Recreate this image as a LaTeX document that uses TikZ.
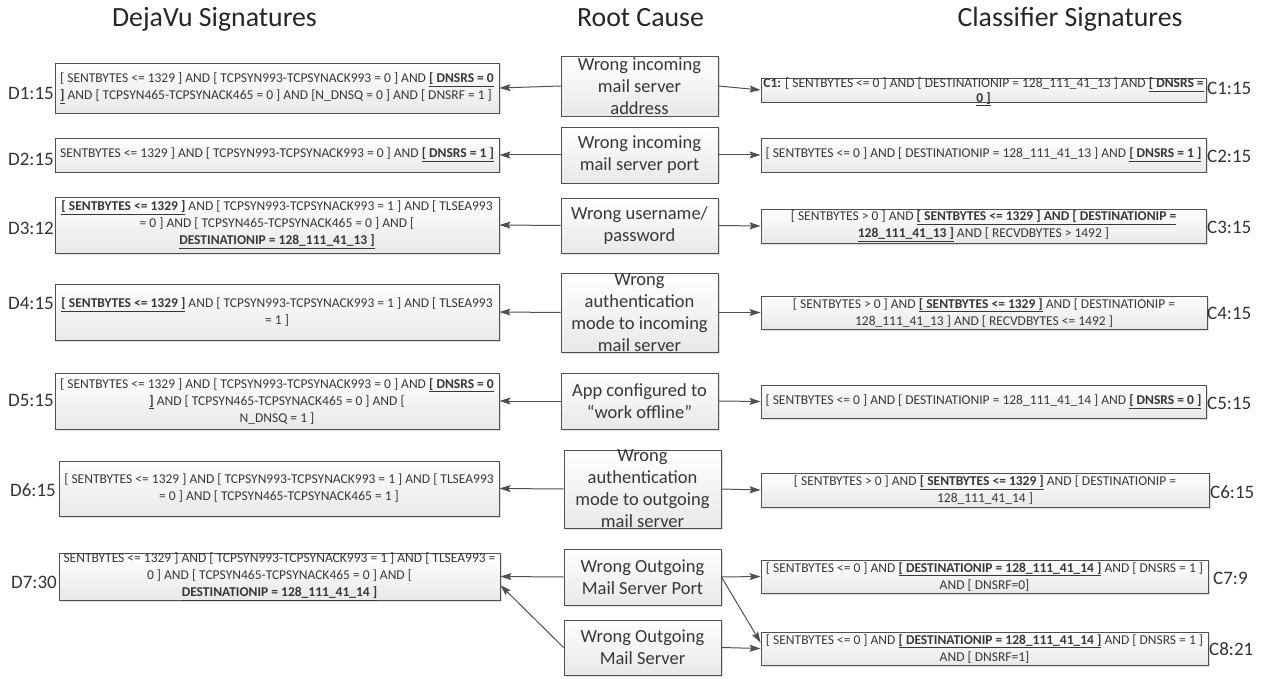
\documentclass[tikz,border=0pt]{standalone}
\usepackage{fontspec}
\setmainfont{Carlito}
\usetikzlibrary{arrows.meta,shadows,calc}
\definecolor{edge}{RGB}{80,80,80}
\definecolor{txt}{RGB}{55,55,55}
\newcommand{\ub}[1]{\underline{\textbf{#1}}}
\tikzset{
  box/.style={draw=edge, line width=0.9pt, top color=white, bottom color=black!9,
    drop shadow={opacity=0.25, shadow xshift=1.5pt, shadow yshift=-1.5pt}, inner sep=0pt},
  sig/.style={font=\fontsize{13.5}{17}\selectfont, text=txt, align=center, inner sep=0pt},
  mid/.style={font=\fontsize{18.5}{22}\selectfont, text=txt, align=center, inner sep=0pt},
  lab/.style={font=\fontsize{19}{22}\selectfont, text=black!80, inner sep=0pt},
  ttl/.style={font=\fontsize{27.8}{30}\selectfont, text=black!85, inner sep=0pt, anchor=base},
  arr/.style={draw=edge, line width=1pt, -{Stealth[length=11pt,width=7pt,inset=2pt]}}
}
\begin{document}
\begin{tikzpicture}[x=1pt,y=-1pt]
\fill[white] (0,0) rectangle (1287,679);
\useasboundingbox (0,0) rectangle (1287,679);

% titles
\node[ttl] (t1) at (214.5,27) {DejaVu Signatures};
\node[ttl] (t2) at (640.5,27) {Root Cause};
\node[ttl] (t3) at (1070,27) {Classifier Signatures};

% ---------- left boxes ----------
\node[box, minimum width=444pt, minimum height=50pt] (d1) at (277,88) {};
\node[box, minimum width=444pt, minimum height=34pt] (d2) at (277,155) {};
\node[box, minimum width=444pt, minimum height=56pt] (d3) at (277,225) {};
\node[box, minimum width=444pt, minimum height=56pt] (d4) at (277,312) {};
\node[box, minimum width=444pt, minimum height=56pt] (d5) at (277,401) {};
\node[box, minimum width=440pt, minimum height=55pt] (d6) at (279,488.5) {};
\node[box, minimum width=441pt, minimum height=47pt] (d7) at (279.5,576.5) {};

\node[sig, align=left] (d1t) at (d1) {[ SENTBYTES <= 1329 ] AND [ TCPSYN993-TCPSYNACK993 = 0 ] AND \ub{[ DNSRS = 0}\\\ub{]} AND [ TCPSYN465-TCPSYNACK465 = 0 ] AND [N\_DNSQ = 0 ] AND [ DNSRF = 1 ]};
\node[sig] (d2t) at (d2) {SENTBYTES <= 1329 ] AND [ TCPSYN993-TCPSYNACK993 = 0 ] AND \ub{[ DNSRS = 1 ]}};
\node[sig] (d3t) at (d3) {\ub{[ SENTBYTES <= 1329 ]} AND [ TCPSYN993-TCPSYNACK993 = 1 ] AND [ TLSEA993\\= 0 ] AND [ TCPSYN465-TCPSYNACK465 = 0 ] AND [\\\ub{DESTINATIONIP = 128\_111\_41\_13 ]}};
\node[sig] (d4t) at (d4) {\ub{[ SENTBYTES <= 1329 ]} AND [ TCPSYN993-TCPSYNACK993 = 1 ] AND [ TLSEA993\\= 1 ]};
\node[sig] (d5t) at (d5) {[ SENTBYTES <= 1329 ] AND [ TCPSYN993-TCPSYNACK993 = 0 ] AND \ub{[ DNSRS = 0}\\\ub{]} AND [ TCPSYN465-TCPSYNACK465 = 0 ] AND [\\N\_DNSQ = 1 ]};
\node[sig] (d6t) at (d6) {[ SENTBYTES <= 1329 ] AND [ TCPSYN993-TCPSYNACK993 = 1 ] AND [ TLSEA993\\= 0 ] AND [ TCPSYN465-TCPSYNACK465 = 1 ]};
\node[sig] (d7t) at (d7) {SENTBYTES <= 1329 ] AND [ TCPSYN993-TCPSYNACK993 = 1 ] AND [ TLSEA993 =\\0 ] AND [ TCPSYN465-TCPSYNACK465 = 0 ] AND [\\\ub{DESTINATIONIP = 128\_111\_41\_14 ]}};

\node[lab, anchor=east] (d1l) at (54,93) {D1:15};
\node[lab, anchor=east] (d2l) at (54,159) {D2:15};
\node[lab, anchor=east] (d3l) at (54,228) {D3:12};
\node[lab, anchor=east] (d4l) at (54,303) {D4:15};
\node[lab, anchor=east] (d5l) at (54,400) {D5:15};
\node[lab, anchor=east] (d6l) at (56,490) {D6:15};
\node[lab, anchor=east] (d7l) at (57,582) {D7:30};

% ---------- middle boxes ----------
\node[box, minimum width=157pt, minimum height=60pt] (m1) at (639.5,86) {};
\node[box, minimum width=157pt, minimum height=56pt] (m2) at (639.5,155) {};
\node[box, minimum width=157pt, minimum height=55pt] (m3) at (639.5,225.5) {};
\node[box, minimum width=157pt, minimum height=79pt] (m4) at (639.5,312.5) {};
\node[box, minimum width=157pt, minimum height=56pt] (m5) at (639.5,401) {};
\node[box, minimum width=157pt, minimum height=78pt] (m6) at (642.5,489) {};
\node[box, minimum width=157pt, minimum height=56pt] (m7) at (642.5,577) {};
\node[box, minimum width=157pt, minimum height=55pt] (m8) at (642.5,647.5) {};

\node[mid] (m1t) at (m1) {Wrong incoming\\mail server\\address};
\node[mid] (m2t) at (m2) {Wrong incoming\\mail server port};
\node[mid] (m3t) at (m3) {Wrong username/\\password};
\node[mid] (m4t) at (m4) {Wrong\\authentication\\mode to incoming\\mail server};
\node[mid] (m5t) at (m5) {App configured to\\“work offline”};
\node[mid] (m6t) at (m6) {Wrong\\authentication\\mode to outgoing\\mail server};
\node[mid] (m7t) at (m7) {Wrong Outgoing\\Mail Server Port};
\node[mid] (m8t) at (m8) {Wrong Outgoing\\Mail Server};

% ---------- right boxes ----------
\node[box, minimum width=445pt, minimum height=24pt] (c1) at (983.5,90) {};
\node[box, minimum width=445pt, minimum height=34pt] (c2) at (983.5,155) {};
\node[box, minimum width=445pt, minimum height=34pt] (c3) at (983.5,226) {};
\node[box, minimum width=446pt, minimum height=33pt] (c4) at (984,312.5) {};
\node[box, minimum width=445pt, minimum height=33pt] (c5) at (983.5,401.5) {};
\node[box, minimum width=448pt, minimum height=34pt] (c6) at (985,490) {};
\node[box, minimum width=447pt, minimum height=33pt] (c7) at (984.5,576.5) {};
\node[box, minimum width=447pt, minimum height=33pt] (c8) at (984.5,648.5) {};

\node[sig, font=\fontsize{13.5}{14.5}\selectfont] (c1t) at ($(c1)+(0,2)$) {\textbf{C1:} [ SENTBYTES <= 0 ] AND [ DESTINATIONIP = 128\_111\_41\_13 ] AND \ub{[ DNSRS =}\\\ub{0 ]}};
\node[sig] (c2t) at (c2) {[ SENTBYTES <= 0 ] AND [ DESTINATIONIP = 128\_111\_41\_13 ] AND \ub{[ DNSRS = 1 ]}};
\node[sig] (c3t) at (c3) {[ SENTBYTES > 0 ] AND \ub{[ SENTBYTES <= 1329 ] AND [ DESTINATIONIP =}\\\ub{128\_111\_41\_13 ]} AND [ RECVDBYTES > 1492 ]};
\node[sig] (c4t) at (c4) {[ SENTBYTES > 0 ] AND \ub{[ SENTBYTES <= 1329 ]} AND [ DESTINATIONIP =\\128\_111\_41\_13 ] AND [ RECVDBYTES <= 1492 ]};
\node[sig] (c5t) at (c5) {[ SENTBYTES <= 0 ] AND [ DESTINATIONIP = 128\_111\_41\_14 ] AND \ub{[ DNSRS = 0 ]}};
\node[sig] (c6t) at (c6) {[ SENTBYTES > 0 ] AND \ub{[ SENTBYTES <= 1329 ]} AND [ DESTINATIONIP =\\128\_111\_41\_14 ]};
\node[sig] (c7t) at (c7) {[ SENTBYTES <= 0 ] AND \ub{[ DESTINATIONIP = 128\_111\_41\_14 ]} AND [ DNSRS = 1 ]\\AND [ DNSRF=0]};
\node[sig] (c8t) at (c8) {[ SENTBYTES <= 0 ] AND \ub{[ DESTINATIONIP = 128\_111\_41\_14 ]} AND [ DNSRS = 1 ]\\AND [ DNSRF=1]};

\node[lab, anchor=west] (c1l) at (1207,88) {C1:15};
\node[lab, anchor=west] (c2l) at (1207,156) {C2:15};
\node[lab, anchor=west] (c3l) at (1207,227) {C3:15};
\node[lab, anchor=west] (c4l) at (1207,313) {C4:15};
\node[lab, anchor=west] (c5l) at (1207,403) {C5:15};
\node[lab, anchor=west] (c6l) at (1210,492) {C6:15};
\node[lab, anchor=west] (c7l) at (1213,578) {C7:9};
\node[lab, anchor=west] (c8l) at (1209,649) {C8:21};

% ---------- connectors ----------
\foreach \i in {1,...,7} {
  \draw[arr] (m\i.west) -- (d\i.east);
  \draw[arr] (m\i.east) -- (c\i.west);
}
\draw[arr] (m7.east) -- ($(c8.west)!0.35!(c8.north west)$);
\draw[arr] (m8.west) -- ($(d7.east)!0.36!(d7.south east)$);
\draw[arr] (m8.east) -- (c8.west);
\end{tikzpicture}
\end{document}
